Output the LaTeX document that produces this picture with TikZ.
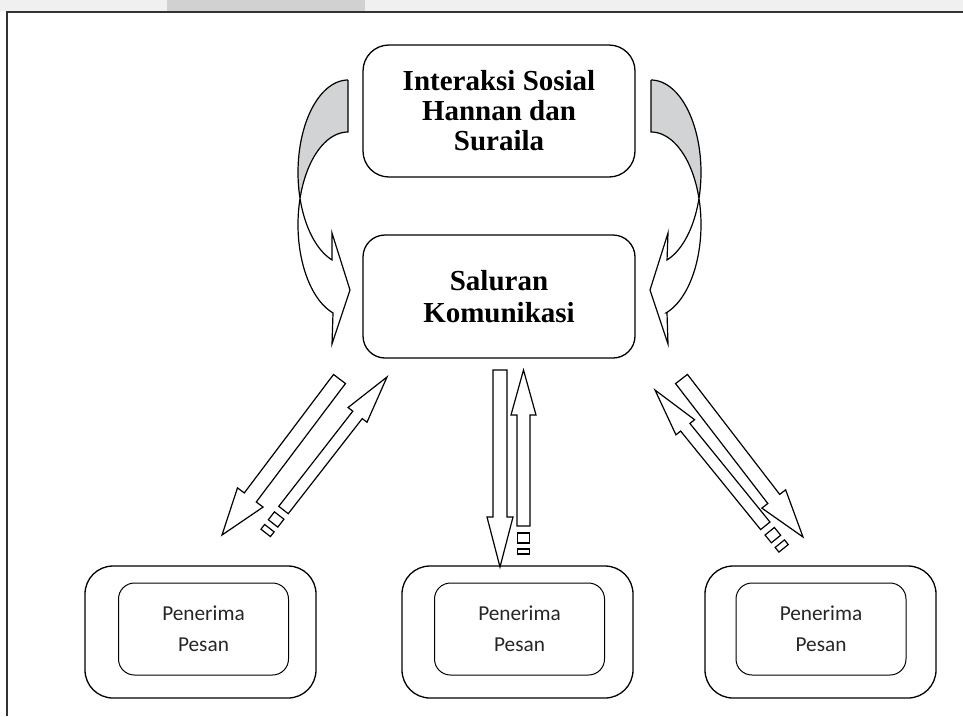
\documentclass[tikz,border=0pt]{standalone}
\usepackage{fontspec}
\setmainfont{Liberation Serif}
\newfontfamily\calib{Carlito}
\usetikzlibrary{calc}
\definecolor{backgray}{RGB}{209,211,212}
\tikzset{
  bigbox/.style={draw, line width=1.3pt, inner sep=0pt, align=center,
    font=\fontsize{29}{30}\selectfont\bfseries},
  outerbox/.style={draw, line width=1.3pt, rounded corners=28pt, minimum width=231pt,
    minimum height=132pt, inner sep=0pt},
  innerbox/.style={draw, line width=1pt, rounded corners=16pt, minimum width=170pt,
    minimum height=92pt, inner sep=0pt, align=center,
    font=\calib\fontsize{21.3}{31}\selectfont, text=black!85},
  blockline/.style={draw, line width=1.2pt, line join=miter, fill=white},
}
% block arrow: tail, tip, shaft half width, head half width, head length
\newcommand{\blockarr}[5]{%
  \coordinate (bh) at ($(#2)!#5!(#1)$);
  \draw[blockline] ($(#1)!#3!90:(#2)$) -- ($(bh)!#3!-90:(#1)$) -- ($(bh)!#4!-90:(#1)$)
    -- (#2) -- ($(bh)!#4!90:(#1)$) -- ($(bh)!#3!90:(#1)$) -- ($(#1)!#3!-90:(#2)$) -- cycle;}
% small dash piece beyond a tail: tail, tip, from, to, half width
\newcommand{\dashpiece}[5]{%
  \coordinate (qa) at ($(#1)!-#3!(#2)$);
  \coordinate (qb) at ($(#1)!-#4!(#2)$);
  \draw[blockline] ($(qa)!#5!90:(#2)$) -- ($(qa)!#5!-90:(#2)$) -- ($(qb)!#5!-90:(#2)$)
    -- ($(qb)!#5!90:(#2)$) -- cycle;}
\begin{document}
\begin{tikzpicture}[x=1pt,y=-1pt]
\useasboundingbox (0,0) rectangle (963,716);
% page background strip
\fill[black!6] (0,0) rectangle (963,11);
\fill[black!18] (167,0) rectangle (365,11);
\draw[line width=1.6pt, black!80] (7,716) -- (7,12) -- (963,12);

% main boxes
\node[bigbox, rounded corners=26pt, minimum width=272pt, minimum height=132pt] (inter) at (499,111)
  {Interaksi Sosial\\Hannan dan\\Suraila};
\node[bigbox, rounded corners=22pt, minimum width=272pt, minimum height=123pt,
  font=\fontsize{29}{32}\selectfont\bfseries] (saluran) at (499,296.5)
  {Saluran\\Komunikasi};

% receiver boxes
\node[outerbox] (o1) at (200.5,632) {};
\node[outerbox] (o2) at (517.5,632) {};
\node[outerbox] (o3) at (820.5,632) {};
\node[innerbox] (p1) at (203.5,629) {Penerima\\Pesan};
\node[innerbox] (p2) at (519.5,629) {Penerima\\Pesan};
\node[innerbox] (p3) at (821,629) {Penerima\\Pesan};

% curved arrow left
\draw[blockline, fill=backgray] (348,80)
  -- plot[domain=270:196.4, samples=40] ({348+50*cos(\x)},{224.6+92.6*sin(\x)})
  -- plot[domain=163.6:270, samples=40] ({348+50*cos(\x)},{172.4+92.4*sin(\x)}) -- cycle;
\draw[blockline] plot[domain=163.6:108.7, samples=40] ({348+50*cos(\x)},{172.4+92.4*sin(\x)})
  -- (332,233) -- (350,290) -- (332,344) -- (333,313)
  -- plot[domain=107.5:196.4, samples=40] ({348+50*cos(\x)},{224.6+92.6*sin(\x)}) -- cycle;

% curved arrow right
\draw[blockline, fill=backgray] (651,80)
  -- plot[domain=270:196.4, samples=40] ({651-50*cos(\x)},{224.6+92.6*sin(\x)})
  -- plot[domain=163.6:270, samples=40] ({651-50*cos(\x)},{172.4+92.4*sin(\x)}) -- cycle;
\draw[blockline] plot[domain=163.6:108.7, samples=40] ({651-50*cos(\x)},{172.4+92.4*sin(\x)})
  -- (668,233) -- (650,290) -- (668,344) -- (667,313)
  -- plot[domain=107.5:196.4, samples=40] ({651-50*cos(\x)},{224.6+92.6*sin(\x)}) -- cycle;

% straight arrow coordinates
\coordinate (aT) at (339.5,379);  \coordinate (aH) at (222,535);
\coordinate (bT) at (283.5,510);  \coordinate (bH) at (387,377);
\coordinate (cT) at (500,370);    \coordinate (cH) at (500,567);
\coordinate (dT) at (523.5,526);  \coordinate (dH) at (523.5,370);
\coordinate (eT) at (681.5,379);  \coordinate (eH) at (803,537);
\coordinate (fT) at (765.3,525.8);\coordinate (fH) at (655,390);

\blockarr{aT}{aH}{7.5pt}{16pt}{47pt}
\blockarr{bT}{bH}{6pt}{12pt}{48pt}
\dashpiece{bT}{bH}{7pt}{17pt}{6pt}
\dashpiece{bT}{bH}{23pt}{29pt}{6pt}
\blockarr{cT}{cH}{7pt}{13pt}{50pt}
\blockarr{dT}{dH}{6.5pt}{12.5pt}{45pt}
\dashpiece{dT}{dH}{7pt}{17pt}{6pt}
\dashpiece{dT}{dH}{23pt}{28pt}{6pt}
\blockarr{eT}{eH}{7.5pt}{15pt}{48pt}
\blockarr{fT}{fH}{6pt}{12pt}{48pt}
\dashpiece{fT}{fH}{7pt}{17pt}{6pt}
\dashpiece{fT}{fH}{23pt}{29pt}{6pt}
\end{tikzpicture}
\end{document}
